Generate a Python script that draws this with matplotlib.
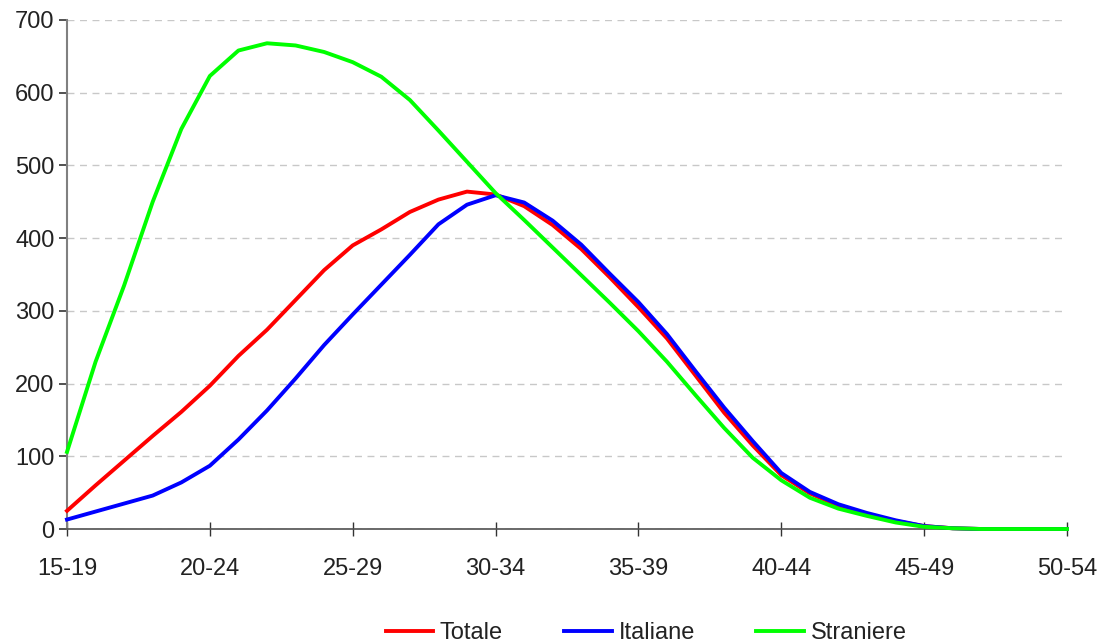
import numpy as np
import matplotlib
matplotlib.use("Agg")
import matplotlib.pyplot as plt

plt.rcParams['font.family'] = ['Liberation Sans', 'DejaVu Sans']

# age groups on the x axis, one value per single year of age (5 per group)
classi = ['15-19', '20-24', '25-29', '30-34', '35-39', '40-44', '45-49', '50-54']

totale = [25, 60, 94, 128, 161, 197, 238, 274, 315, 356,
          390, 412, 436, 453, 464, 460, 444, 418, 385, 346,
          305, 262, 211, 160, 115, 74, 49, 32, 20, 11,
          4, 1, 0, 0, 0, 0]

italiane = [13, 24, 35, 46, 64, 87, 123, 163, 207, 253,
            295, 336, 377, 419, 446, 459, 449, 424, 391, 351,
            312, 268, 217, 167, 121, 77, 51, 34, 22, 12,
            4, 1, 0, 0, 0, 0]

straniere = [106, 230, 335, 450, 550, 623, 658, 668, 665, 656,
             642, 622, 590, 548, 505, 462, 425, 387, 349, 311,
             272, 230, 184, 139, 98, 67, 43, 28, 18, 9,
             3, 1, 0, 0, 0, 0]

x = np.arange(len(totale)) / 5.0

fig = plt.figure(figsize=(10.97, 6.43), dpi=100)
ax = fig.add_axes([67/1097, 114/643, 1000/1097, 509/643])

ax.plot(x, totale, color='#ff0000', lw=2.8, label='Totale', clip_on=False, zorder=3)
ax.plot(x, italiane, color='#0000ff', lw=2.8, label='Italiane', clip_on=False, zorder=4)
ax.plot(x, straniere, color='#00ff00', lw=2.8, label='Straniere', clip_on=False, zorder=5)

ax.set_xlim(0, 7)
ax.set_ylim(0, 700)
ax.set_xticks(range(len(classi)))
ax.set_xticklabels(classi)
ax.set_yticks(range(0, 701, 100))

ax.grid(axis='y', color='#c8c8c8', ls=(0, (5, 4)), lw=1)
ax.set_axisbelow(True)

for s in ['top', 'right']:
    ax.spines[s].set_visible(False)
ax.spines['left'].set_color('#808080')
ax.spines['left'].set_linewidth(1.5)
ax.spines['bottom'].set_color('#505050')
ax.spines['bottom'].set_linewidth(1.2)

ax.tick_params(axis='y', direction='out', length=6, width=1.2, color='#333333',
               labelsize=17, labelcolor='#222222', pad=3)
ax.tick_params(axis='x', direction='inout', length=10, width=1, color='#333333',
               labelsize=17, labelcolor='#222222', pad=16)

fig.legend(loc='lower center', bbox_to_anchor=(0.589, -0.035), ncol=3, frameon=False,
           fontsize=17, handlelength=2.0, handletextpad=0.3, columnspacing=2.6,
           labelcolor='#222222')

fig.savefig('out.png', dpi=100)
